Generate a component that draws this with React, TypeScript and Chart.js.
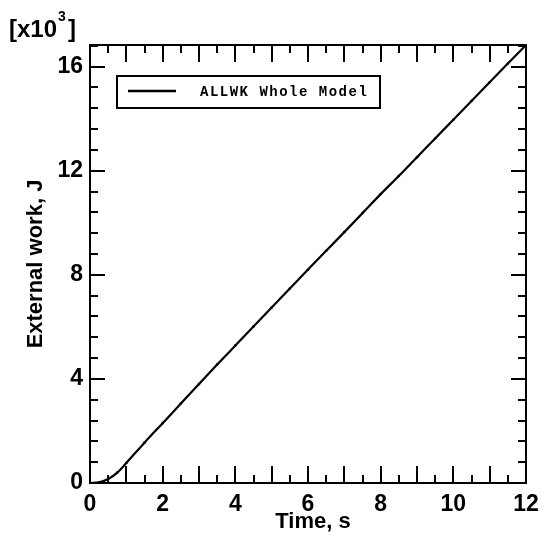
import React, { useEffect, useRef } from "react";
import { Chart, registerables } from "chart.js";

Chart.register(...registerables);

// Data
const timeValues = [0, 0.25, 0.5, 0.75, 1.0, 1.5, 2.0, 2.5, 3.0, 3.5, 4.0, 4.5, 5.0, 5.5, 6.0, 6.5, 7.0, 7.5, 8.0, 8.5, 9.0, 9.5, 10.0, 10.5, 11.0, 11.5, 12.0];
const workValues = [0, 0.03, 0.15, 0.4, 0.77, 1.55, 2.3, 3.05, 3.8, 4.55, 5.28, 6.01, 6.74, 7.47, 8.2, 8.92, 9.64, 10.37, 11.1, 11.8, 12.52, 13.24, 13.96, 14.68, 15.4, 16.12, 16.83];

const xTickLabels = [0, 2, 4, 6, 8, 10, 12];
const yTickLabels = [0, 4, 8, 12, 16];
const seriesLabel = "ALLWK Whole Model";
const xTitle = "Time, s";
const yTitle = "External work, J";
const xMax = 12;
const yMax = 16.83;
const xMinorStep = 0.5;
const yMinorStep = 0.8;

const FONT = "'Liberation Sans', Arial, sans-serif";

const framePlugin = {
  id: "framePlugin",
  afterDraw(chart: any) {
    const { ctx, chartArea } = chart;
    const xs = chart.scales.x;
    const ys = chart.scales.y;
    const { left, right, top, bottom } = chartArea;
    ctx.save();
    ctx.strokeStyle = "#000";
    ctx.lineWidth = 2;
    ctx.strokeRect(left, top, right - left, bottom - top);
    ctx.lineWidth = 2;
    for (let i = 0; i * xMinorStep <= xMax + 1e-9; i++) {
      const v = i * xMinorStep;
      const px = Math.round(xs.getPixelForValue(v));
      const len = i % 2 === 0 ? 17 : 8;
      ctx.beginPath();
      ctx.moveTo(px, bottom);
      ctx.lineTo(px, bottom - len);
      ctx.moveTo(px, top);
      ctx.lineTo(px, top + len);
      ctx.stroke();
    }
    for (let i = 0; i * yMinorStep <= yMax + 1e-9; i++) {
      const v = i * yMinorStep;
      const py = Math.round(ys.getPixelForValue(v));
      const len = i % 5 === 0 ? 15 : 8;
      ctx.beginPath();
      ctx.moveTo(left, py);
      ctx.lineTo(left + len, py);
      ctx.moveTo(right, py);
      ctx.lineTo(right - len, py);
      ctx.stroke();
    }
    // axis titles
    ctx.fillStyle = "#000";
    ctx.font = `bold 22px ${FONT}`;
    ctx.textAlign = "center";
    ctx.textBaseline = "middle";
    ctx.fillText(xTitle, (left + right) / 2 + 5, 522);
    ctx.save();
    ctx.translate(36, (top + bottom) / 2);
    ctx.rotate(-Math.PI / 2);
    ctx.fillText(yTitle, 0, 0);
    ctx.restore();
    // multiplier label
    ctx.textAlign = "left";
    ctx.textBaseline = "alphabetic";
    ctx.font = `bold 24px ${FONT}`;
    ctx.fillText("[x10", 9, 37);
    const w = ctx.measureText("[x10").width;
    ctx.font = `bold 14px ${FONT}`;
    ctx.fillText("3", 9 + w + 1, 21);
    ctx.font = `bold 24px ${FONT}`;
    ctx.fillText("]", 9 + w + 11, 37);
    // legend box
    ctx.lineWidth = 2;
    ctx.strokeRect(117, 76, 263, 32);
    ctx.lineWidth = 2.5;
    ctx.beginPath();
    ctx.moveTo(128, 91);
    ctx.lineTo(176, 91);
    ctx.stroke();
    ctx.font = `bold 14px 'Liberation Mono', 'Courier New', monospace`;
    (ctx as any).letterSpacing = "1.5px";
    ctx.textBaseline = "middle";
    ctx.fillText(seriesLabel, 200, 92);
    (ctx as any).letterSpacing = "0px";
    ctx.restore();
  },
};

export default function App() {
  const canvasRef = useRef<HTMLCanvasElement | null>(null);

  useEffect(() => {
    const canvas = canvasRef.current;
    if (!canvas) return;
    const chart = new Chart(canvas, {
      type: "line",
      data: {
        datasets: [
          {
            label: seriesLabel,
            data: timeValues.map((t, i) => ({ x: t, y: workValues[i] })),
            borderColor: "#000",
            backgroundColor: "#000",
            borderWidth: 2.2,
            pointRadius: 1.3,
            pointBorderWidth: 0,
            cubicInterpolationMode: "monotone",
          },
        ],
      },
      options: {
        responsive: false,
        animation: false,
        layout: { padding: { left: 0, right: 16, top: 45, bottom: 0 } },
        plugins: {
          legend: { display: false },
          tooltip: { enabled: false },
        },
        scales: {
          x: {
            type: "linear",
            min: 0,
            max: xMax,
            afterFit: (s: any) => {
              s.height = 61;
              s.paddingLeft = 0;
              s.paddingRight = 0;
            },
            afterBuildTicks: (s: any) => {
              s.ticks = xTickLabels.map((v) => ({ value: v }));
            },
            grid: { display: false, drawTicks: false },
            border: { display: false },
            ticks: {
              color: "#000",
              padding: 8,
              maxRotation: 0,
              autoSkip: false,
              font: { family: FONT, size: 23, weight: "bold" },
            },
          },
          y: {
            type: "linear",
            min: 0,
            max: yMax,
            afterFit: (s: any) => {
              s.width = 90;
              s.paddingTop = 0;
              s.paddingBottom = 0;
            },
            afterBuildTicks: (s: any) => {
              s.ticks = yTickLabels.map((v) => ({ value: v }));
            },
            grid: { display: false, drawTicks: false },
            border: { display: false },
            ticks: {
              color: "#000",
              padding: 7,
              autoSkip: false,
              font: { family: FONT, size: 23, weight: "bold" },
            },
          },
        },
      },
      plugins: [framePlugin],
    });
    return () => chart.destroy();
  }, []);

  return (
    <div style={{ position: "fixed", left: 0, top: 0, width: 542, height: 544, background: "#fff" }}>
      <canvas ref={canvasRef} width={542} height={544} style={{ width: 542, height: 544, display: "block" }} />
    </div>
  );
}
